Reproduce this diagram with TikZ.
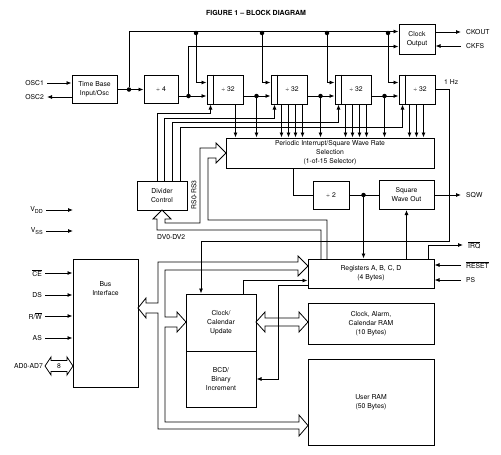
\documentclass[tikz,border=0pt]{standalone}
\usepackage{fontspec}
\setmainfont{TeX Gyre Heros}
\usetikzlibrary{positioning, arrows.meta}

\tikzset{
  blk/.style={draw, line width=1pt, align=center, inner sep=1pt, font=\fontsize{6.8}{9}\selectfont},
  ln/.style={line width=0.8pt},
  arr/.style={ln, -{Latex[length=5pt,width=4pt]}},
  dot/.style={circle, fill, inner sep=0pt, minimum size=4.5pt},
  lbl/.style={inner sep=1pt, font=\fontsize{6.8}{9}\selectfont},
  bus/.style={line width=0.8pt, line join=miter},
}
\newcommand{\nbar}[1]{$\overline{\hbox{#1}}$}
\newcommand{\vsub}[2]{#1\raisebox{-2pt}{\fontsize{5.5}{6}\selectfont #2}}

\begin{document}
\begin{tikzpicture}[x=1pt, y=-1pt]
\useasboundingbox (0,0) rectangle (501,455);

\node[font=\bfseries\fontsize{7}{8}\selectfont] (title) at (256,13) {FIGURE 1 -- BLOCK DIAGRAM};

% divider chain
\node[blk, minimum width=45pt, minimum height=28pt] (tbase) at (94.5,89.5) {Time Base\\Input/Osc};
\node[blk, minimum width=34pt, minimum height=28pt] (div4) at (161,89.5) {÷ 4};
\node[blk, minimum width=36pt, minimum height=29pt] (d32a) at (225,89.5) {\hspace*{6pt}÷ 32};
\node[blk, minimum width=36pt, minimum height=29pt, right=27pt of d32a] (d32b) {\hspace*{6pt}÷ 32};
\node[blk, minimum width=36pt, minimum height=29pt, right=27pt of d32b] (d32c) {\hspace*{6pt}÷ 32};
\node[blk, minimum width=36pt, minimum height=29pt, right=27pt of d32c] (d32d) {\hspace*{6pt}÷ 32};
\node[blk, minimum width=36pt, minimum height=30pt, above=20pt of d32d] (clkout) {Clock\\Output};
\foreach \b in {d32a,d32b,d32c,d32d}
  \draw[ln] ([xshift=7pt]\b.north west) -- ([xshift=7pt]\b.south west);

% selector and outputs
\node[blk, minimum width=208pt, minimum height=30pt] (pisel) at (330,153) {Periodic Interrupt/Square Wave Rate\\Selection\\(1-of-15 Selector)};
\node[blk, minimum width=50pt, minimum height=29pt] (divctl) at (162,195.5) {Divider\\Control};
\node[blk, minimum width=36pt, minimum height=28pt] (div2) at (331,195) {÷ 2};
\node[blk, minimum width=55pt, minimum height=29pt] (sqw) at (406.5,195) {Square\\Wave Out};

% registers and memory
\node[blk, minimum width=126pt, minimum height=29pt] (regs) at (371,273.5) {Registers A, B, C, D\\(4 Bytes)};
\node[blk, minimum width=126pt, minimum height=41pt, below=14pt of regs] (caram) {Clock, Alarm,\\Calendar RAM\\(10 Bytes)};
\node[blk, minimum width=126pt, minimum height=86pt, below=14pt of caram] (uram) {User RAM\\(50 Bytes)};
\node[blk, minimum width=65pt, minimum height=128pt] (busif) at (105.5,323) {};
\node[lbl, align=center, below=22pt of busif.north] (busiftxt) {Bus\\Interface};
\node[blk, minimum width=70pt, minimum height=57pt] (ccupd) at (221,322.5) {Clock/\\Calendar\\Update};
\node[blk, minimum width=70pt, minimum height=56pt, below=-1pt of ccupd] (bcd) {BCD/\\Binary\\Increment};

% pins
\node[lbl, anchor=east] (osc1) at (45,83) {OSC1};
\node[lbl, anchor=east] (osc2) at (45,97) {OSC2};
\node[lbl, anchor=east] (vdd) at (44,210) {\vsub{V}{DD}};
\node[lbl, anchor=east] (vss) at (44,231) {\vsub{V}{SS}};
\coordinate (vddin) at (vdd.east -| 73,0);
\coordinate (vssin) at (vss.east -| 73,0);
\node[lbl, anchor=east] (ce) at (43,273) {\nbar{CE}};
\node[lbl, anchor=east] (ds) at (43,295) {DS};
\node[lbl, anchor=east] (rw) at (43,316) {R/\nbar{W}};
\node[lbl, anchor=east] (as) at (43,338) {AS};
\node[lbl, anchor=east] (ad) at (44,366) {AD0-AD7};
\node[lbl, anchor=west] (ckout) at (465,32) {CKOUT};
\node[lbl, anchor=west] (ckfs) at (465,46) {CKFS};
\node[lbl, anchor=west] (hz) at (443,82) {1 Hz};
\node[lbl, anchor=west] (sqwo) at (465,195) {SQW};
\node[lbl, anchor=west] (irq) at (467,245) {\nbar{IRQ}};
\node[lbl, anchor=west] (rst) at (465,265) {\nbar{RESET}};
\node[lbl, anchor=west] (ps) at (465,280) {PS};
\node[lbl, anchor=west] (dvl) at (156,237) {DV0-DV2};
\node[lbl, rotate=90] (rsl) at (194,195) {RS0-RS3};

% clock paths
\draw[arr, shorten <=2pt] (osc1.east) -- (osc1.east -| tbase.west);
\draw[arr, shorten >=2pt] (osc2.east -| tbase.west) -- (osc2.east);
\draw[arr] (tbase) -- (div4);
\node[dot] (j0) at (129,89.5) {};
\coordinate (cki1) at ([yshift=-8pt]clkout.north west);
\coordinate (cki2) at ([yshift=8pt]clkout.south west);
\draw[arr] (j0) |- (cki1);
\foreach \a/\b in {div4/d32a, d32a/d32b, d32b/d32c, d32c/d32d}
  \draw[arr] ([yshift=-6.5pt]\a.east) -- ([yshift=-6.5pt]\b.west);
\node[dot] (j1) at ([xshift=10pt,yshift=-6.5pt]div4.east) {};
\node[dot] (j2) at ([xshift=13pt,yshift=-6.5pt]d32a.east) {};
\node[dot] (j3) at ([xshift=13pt,yshift=-6.5pt]d32b.east) {};
\node[dot] (j4) at ([xshift=13pt,yshift=-6.5pt]d32c.east) {};
\draw[arr] (j1) |- (cki2);
\foreach \j in {j2,j3,j4}
  \draw[arr] (\j) -- (\j |- pisel.north);
\node[dot] (k1) at (196,33) {};
\node[dot] (k2) at (262,33) {};
\node[dot] (k3) at (327,33) {};
\node[dot] (k4) at (388,33) {};
\foreach \k/\b in {k1/d32a, k2/d32b, k3/d32c, k4/d32d}
  \draw[arr] (\k) |- ([yshift=7pt]\b.west);
\draw[arr] (clkout.east |- ckout.west) -- ([xshift=-4pt]ckout.west);
\draw[arr] ([xshift=-4pt]ckfs.west) -- (ckfs.west -| clkout.east);

% divider control to dividers
\foreach \b/\dx/\dy in {d32a/-5/9, d32b/2/14, d32c/10/18, d32d/18/23}
  \draw[arr] ([xshift=\dx pt]divctl.north) |- ([xshift=4pt,yshift=-\dy pt]\b.south west) -- ([xshift=4pt]\b.south west);

% taps to selector
\draw[arr] ([xshift=29pt]d32a.south west) coordinate (o) -- (o |- pisel.north);
\foreach \b in {d32b,d32c}
  \foreach \dx in {11,18,25,32}
    \draw[arr] ([xshift=\dx pt]\b.south west) coordinate (o) -- (o |- pisel.north);
\foreach \dx in {11,18,25}
  \draw[arr] ([xshift=\dx pt]d32d.south west) coordinate (o) -- (o |- pisel.north);

% 1 Hz to update
\draw[arr] (d32d.east) -- ++(14,0) -- ++(0,151.5) -| ([xshift=-20pt]ccupd.north);

% square wave
\draw[ln] ([xshift=-37pt]pisel.south) |- (div2.west);
\draw[ln] (div2.east) -- (sqw.west);
\node[dot] (j5) at ([xshift=14pt]div2.east) {};
\draw[arr] (j5) -- (j5 |- regs.north);
\draw[arr] (sqw.south |- regs.north) -- (sqw.south);
\draw[arr] (sqw.east) -- ([xshift=-4pt]sqwo.west);

% register pins
\draw[arr] ([xshift=-6pt]regs.north east) |- ([xshift=-4pt]irq.west);
\draw[arr] ([xshift=-4pt]rst.west) -- (rst.west -| regs.east);
\draw[arr] ([xshift=-4pt]ps.west) -- (ps.west -| regs.east);

% bus interface pins
\foreach \s in {ce,ds,rw,as}
  \draw[arr, shorten <=2pt] (\s.east) -- (\s.east -| busif.west);
\draw[arr, shorten <=2pt] (vdd.east) -- (vddin);
\draw[arr, shorten <=2pt] (vss.east) -- (vssin);

% update paths
\draw[arr] ([xshift=22pt]ccupd.north) |- ([yshift=8pt]regs.south west);
\draw[arr] ([yshift=3pt]regs.south west) -- ++(-29,0) |- (bcd.east);

% buses
\draw[bus] (138,308) -- (146,298) -- (146,303) -- (158,303) -- (158,262) -- (298,262) -- (298,256) -- (308,266) -- (298,276) -- (298,270) -- (165,270) -- (165,317) -- (177,317) -- (177,312) -- (186,322) -- (177,332) -- (177,327) -- (165,327) -- (165,422) -- (299,422) -- (299,415) -- (308,425.5) -- (299,436) -- (299,429) -- (158,429) -- (158,313) -- (146,313) -- (146,318) -- cycle;
\draw[bus] (256,322) -- (265,312) -- (265,318) -- (299,318) -- (299,312) -- (308,322) -- (299,332) -- (299,326) -- (265,326) -- (265,332) -- cycle;
\draw[bus] (45,366) -- (51,357) -- (51,360.5) -- (67,360.5) -- (67,357) -- (73,366) -- (67,375) -- (67,371.5) -- (51,371.5) -- (51,375) -- cycle;
\node[lbl] (eight) at (59,366) {8};
\draw[bus] (321,259) -- (321,230) -- (157,230) -- (157,219) -- (153,219) -- (162,210) -- (171,219) -- (165,219) -- (165,223) -- (200,223) -- (200,148) -- (216,148) -- (216,143) -- (226,153) -- (216,163) -- (216,158) -- (208,158) -- (208,220) -- (327,220) -- (327,259);
\end{tikzpicture}
\end{document}
